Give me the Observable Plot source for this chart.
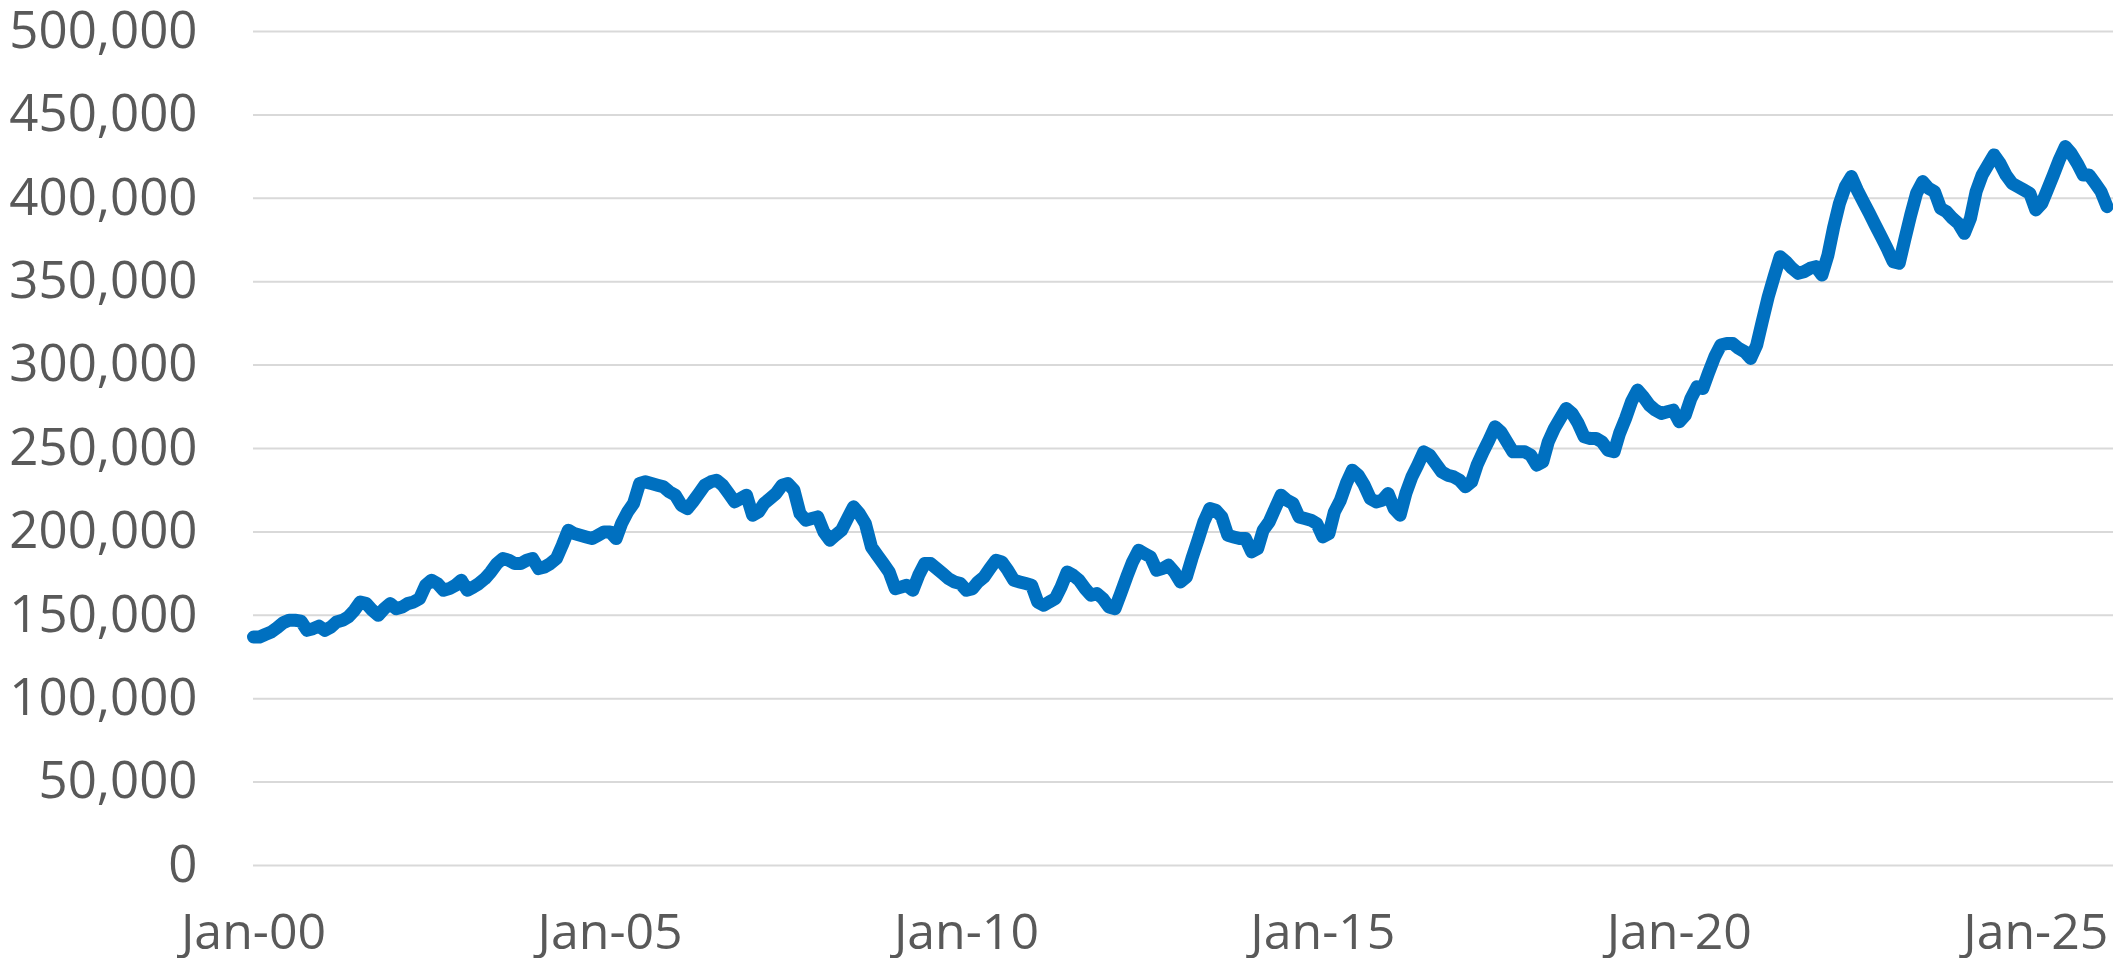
<!DOCTYPE html>
<html>
<head>
<meta charset="utf-8">
<script src="https://cdn.jsdelivr.net/npm/d3@7"></script>
<script src="https://cdn.jsdelivr.net/npm/@observablehq/plot@0.6"></script>
<style>
  html, body { margin: 0; padding: 0; background: #ffffff; }
  #chart svg { display: block; }
</style>
</head>
<body>
<div id="chart"></div>
<script>
// Monthly values (Jan..Dec)
const startYear = 2000;
const v2000 = [137000, 137000, 138500, 140000, 142500, 145500, 147000, 147000, 146500, 141000, 142000, 143500];
const v2001 = [141000, 143000, 146000, 147000, 149000, 153000, 158000, 157000, 153000, 150000, 154000, 157000];
const v2002 = [154000, 155000, 157000, 158000, 160000, 168000, 171000, 169000, 165000, 166000, 168000, 171000];
const v2003 = [165000, 167000, 169000, 172000, 176000, 181000, 184000, 183000, 181000, 181000, 183000, 184000];
const v2004 = [178000, 179000, 181000, 184000, 192000, 201000, 199000, 198000, 197000, 196000, 198000, 200000];
const v2005 = [200000, 196000, 205000, 212000, 217000, 229000, 230000, 229000, 228000, 227000, 224000, 222000];
const v2006 = [216000, 214000, 218000, 223000, 228000, 230000, 231000, 228000, 223000, 218000, 220000, 222000];
const v2007 = [210000, 212000, 217000, 220000, 223000, 228000, 229000, 225000, 211000, 207000, 208000, 209000];
const v2008 = [200000, 195000, 198000, 201000, 208000, 215000, 211000, 205000, 191000, 186000, 181000, 176000];
const v2009 = [166000, 167000, 168000, 165000, 174000, 181000, 181000, 178000, 175000, 172000, 170000, 169000];
const v2010 = [165000, 166000, 170000, 173000, 178000, 183000, 182000, 177000, 171000, 170000, 169000, 168000];
const v2011 = [158000, 156000, 158000, 160000, 167000, 176000, 174000, 171000, 166000, 162000, 163000, 160000];
const v2012 = [155000, 154000, 163000, 173000, 182000, 189000, 187000, 185000, 177000, 178000, 180000, 176000];
const v2013 = [170000, 173000, 184000, 195000, 206000, 214000, 213000, 209000, 198000, 197000, 196000, 196000];
const v2014 = [188000, 190000, 201000, 206000, 214000, 222000, 219000, 217000, 209000, 208000, 207000, 205000];
const v2015 = [197000, 199000, 212000, 219000, 229000, 237000, 234000, 228000, 220000, 218000, 219000, 223000];
const v2016 = [214000, 210000, 223000, 233000, 240000, 248000, 246000, 241000, 236000, 234000, 233000, 231000];
const v2017 = [227000, 230000, 240000, 248000, 255000, 263000, 260000, 254000, 248000, 248000, 248000, 246000];
const v2018 = [240000, 242000, 254000, 262000, 268000, 274000, 271000, 265000, 257000, 256000, 256000, 254000];
const v2019 = [249000, 248000, 259000, 268000, 278000, 285000, 281000, 276000, 273000, 271000, 272000, 273000];
const v2020 = [266000, 270000, 280000, 287000, 286000, 296000, 305000, 312000, 313000, 313000, 310000, 308000];
const v2021 = [304000, 312000, 326000, 341000, 353000, 365000, 362000, 358000, 355000, 356000, 358000, 359000];
const v2022 = [354000, 366000, 382000, 397000, 407000, 413000, 405000, 398000, 391000, 384000, 377000, 370000];
const v2023 = [362000, 361000, 375000, 390000, 403000, 410000, 406000, 404000, 394000, 392000, 388000, 385000];
const v2024 = [379000, 388000, 404000, 414000, 420000, 426000, 421000, 414000, 409000, 407000, 405000, 403000];
const v2025 = [393000, 397000, 405000, 414000, 423000, 431000, 427000, 421000, 414000, 414000, 409000, 404000];
const v2026 = [395000];

const seriesByYear = [v2000, v2001, v2002, v2003, v2004, v2005, v2006, v2007, v2008, v2009,
  v2010, v2011, v2012, v2013, v2014, v2015, v2016, v2017, v2018, v2019,
  v2020, v2021, v2022, v2023, v2024, v2025, v2026];

// Axis ticks and labels
const yTicks = [0, 50000, 100000, 150000, 200000, 250000, 300000, 350000, 400000, 450000, 500000];
const xTickYears = [2000, 2005, 2010, 2015, 2020, 2025];
const xTickLabels = ["Jan-00", "Jan-05", "Jan-10", "Jan-15", "Jan-20", "Jan-25"];

const data = seriesByYear.flatMap((vals, i) =>
  vals.map((value, m) => ({ date: new Date(Date.UTC(startYear + i, m, 1)), value }))
);
const xTickDates = xTickYears.map(y => new Date(Date.UTC(y, 0, 1)));

const chart = Plot.plot({
  width: 2113,
  height: 958,
  marginLeft: 253,
  marginRight: 0,
  marginTop: 31,
  marginBottom: 93,
  style: {
    fontFamily: "'Open Sans', 'Noto Sans', sans-serif",
    fontSize: "51px",
    color: "#595959",
    background: "#ffffff"
  },
  x: { type: "utc", domain: [new Date(Date.UTC(2000, 0, 1)), new Date(Date.UTC(2026, 1, 3))] },
  y: { domain: [0, 500000] },
  marks: [
    Plot.gridY(yTicks, { stroke: "#d9d9d9", strokeOpacity: 1, strokeWidth: 2 }),
    Plot.axisY(yTicks, {
      tickSize: 0,
      tickPadding: 56,
      tickFormat: d3.format(","),
      label: null,
      fontSize: 51,
      fill: "#595959"
    }),
    Plot.axisX(xTickDates, {
      tickSize: 0,
      tickPadding: 48,
      tickFormat: d => xTickLabels[xTickDates.findIndex(t => +t === +d)],
      label: null,
      fontSize: 50,
      fill: "#595959"
    }),
    Plot.lineY(data, {
      x: "date",
      y: "value",
      stroke: "#0070C0",
      strokeWidth: 13,
      strokeLinejoin: "round",
      strokeLinecap: "round"
    })
  ]
});

document.getElementById("chart").appendChild(chart);
</script>
</body>
</html>
